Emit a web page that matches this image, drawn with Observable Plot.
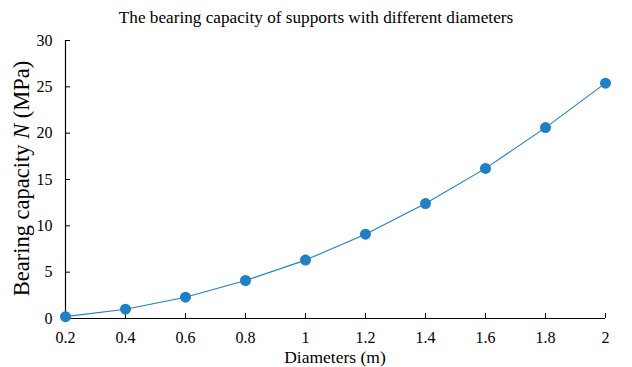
<!DOCTYPE html>
<html><head><meta charset="utf-8">
<script src="https://cdn.jsdelivr.net/npm/d3@7"></script>
<script src="https://cdn.jsdelivr.net/npm/@observablehq/plot@0.6"></script>
<style>
body{margin:0;background:#fff;font-family:"Liberation Serif","Times New Roman",serif}
#title{width:632px;height:30px;line-height:35px;text-align:center;font-size:17.2px;color:#000}
#chart svg text{font-family:"Liberation Serif","Times New Roman",serif}
</style></head>
<body>
<div id="title">The bearing capacity of supports with different diameters</div>
<div id="chart"></div>
<script>
const diameters = [0.2, 0.4, 0.6, 0.8, 1.0, 1.2, 1.4, 1.6, 1.8, 2.0];
const capacity = [0.2, 1.0, 2.3, 4.1, 6.3, 9.1, 12.4, 16.2, 20.6, 25.4];
const xTicks = [0.2, 0.4, 0.6, 0.8, 1, 1.2, 1.4, 1.6, 1.8, 2];
const yTicks = [0, 5, 10, 15, 20, 25, 30];
const xLabel = "Diameters (m)";
const yLabelParts = ["Bearing capacity ", "N", " (MPa)"];

const data = diameters.map((d, i) => ({d, n: capacity[i]}));
const color = "#1f80c4";

const plot = Plot.plot({
  width: 632,
  height: 337,
  marginTop: 10,
  marginBottom: 49,
  marginLeft: 65,
  marginRight: 27,
  style: "font-family: 'Liberation Serif', 'Times New Roman', serif; font-size: 16px; color: #000; background: #fff;",
  x: {domain: [0.2, 2], label: null},
  y: {domain: [0, 30], label: null},
  marks: [
    Plot.axisX(xTicks, {tickSize: -5, tickPadding: 18, fontSize: 16, label: null, tickFormat: d => String(d)}),
    Plot.axisY(yTicks, {tickSize: -5, tickPadding: 18, fontSize: 16, label: null}),
    Plot.ruleY([0], {stroke: "#000", strokeWidth: 1.2}),
    Plot.ruleX([0.2], {stroke: "#000", strokeWidth: 1.2}),
    Plot.line(data, {x: "d", y: "n", stroke: color, strokeWidth: 1.1}),
    Plot.dot(data, {x: "d", y: "n", r: 5.5, fill: color, stroke: "none"})
  ]
});
document.getElementById("chart").appendChild(plot);

const svg = d3.select(plot);
svg.append("text")
  .attr("x", 335).attr("y", 328.5)
  .attr("text-anchor", "middle").attr("dominant-baseline", "middle")
  .style("font-size", "17.5px").attr("fill", "#000")
  .text(xLabel);
const yl = svg.append("text")
  .attr("transform", "translate(24,148.5) rotate(-90)")
  .attr("text-anchor", "middle").attr("dominant-baseline", "middle")
  .style("font-size", "22.5px").attr("fill", "#000");
yLabelParts.forEach((p, i) => {
  const t = yl.append("tspan").text(p);
  if (i === 1) t.style("font-style", "italic");
});
</script>
</body></html>
